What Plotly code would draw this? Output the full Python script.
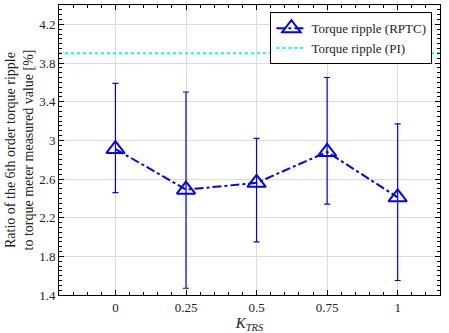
import plotly.graph_objects as go

k_trs = [0, 0.25, 0.5, 0.75, 1]
ripple_rptc = [2.91, 2.49, 2.56, 2.88, 2.41]
err_upper = [3.59, 3.50, 3.02, 3.65, 3.17]
err_lower = [2.46, 1.47, 1.95, 2.34, 1.55]
ripple_pi = 3.9
x_span = [-0.2, 1.15]
y_ticks = [1.4, 1.8, 2.2, 2.6, 3.0, 3.4, 3.8, 4.2]
y_tick_text = ["1.4", "1.8", "2.2", "2.6", "3", "3.4", "3.8", "4.2"]
x_ticks = [0, 0.25, 0.5, 0.75, 1]
x_tick_text = ["0", "0.25", "0.5", "0.75", "1"]

plus = [u - v for u, v in zip(err_upper, ripple_rptc)]
minus = [v - l for v, l in zip(ripple_rptc, err_lower)]

font = "Liberation Serif"

fig = go.Figure()
fig.add_trace(go.Scatter(
    x=k_trs, y=ripple_rptc, mode="lines+markers",
    name="Torque ripple (RPTC)",
    line=dict(color="#0000ff", width=2, dash="dashdot"),
    marker=dict(symbol="triangle-up-open", size=16, color="#0000ff",
                line=dict(width=2, color="#0000ff")),
    error_y=dict(type="data", symmetric=False, array=plus, arrayminus=minus,
                 color="#0000ff", thickness=1.2, width=3),
))
fig.add_trace(go.Scatter(
    x=x_span, y=[ripple_pi, ripple_pi], mode="lines",
    name="Torque ripple (PI)",
    line=dict(color="#00ffff", width=2, dash="dot"),
))

axis_common = dict(
    showline=True, linecolor="black", linewidth=1, mirror="allticks",
    ticks="inside", ticklen=5, tickcolor="black",
    showgrid=True, gridcolor="#dcdcdc", gridwidth=1, zeroline=False,
    tickfont=dict(family=font, size=13, color="#222"),
)

fig.update_xaxes(
    range=x_span, tickvals=x_ticks, ticktext=x_tick_text,
    minor=dict(dtick=0.05, tick0=0, ticks="inside", ticklen=3, tickcolor="black", showgrid=False),
    title=dict(text="<i>K</i><sub><i>TRS</i></sub>", font=dict(family=font, size=15, color="#222"), standoff=2),
    **axis_common,
)
fig.update_yaxes(
    range=[1.4, 4.4], tickvals=y_ticks, ticktext=y_tick_text,
    minor=dict(dtick=0.05, tick0=1.4, ticks="inside", ticklen=3, tickcolor="black", showgrid=False),
    title=dict(text="Ratio of the 6th order torque ripple<br>to torque meter measured value [%]",
               font=dict(family=font, size=14, color="#222"), standoff=2),
    **axis_common,
)

fig.update_layout(
    width=449, height=333,
    margin=dict(l=59, r=9, t=5, b=38),
    plot_bgcolor="white", paper_bgcolor="white",
    font=dict(family=font, size=13, color="#222"),
    showlegend=True,
    legend=dict(x=0.98, y=0.975, xanchor="right", yanchor="top",
                bgcolor="white", bordercolor="black", borderwidth=1,
                font=dict(family=font, size=13, color="#222"),
                tracegroupgap=0, itemwidth=30),
)

fig.write_html("out.html", config={"displayModeBar": False},
               post_script="document.body.style.margin='0';document.body.style.padding='0';")
